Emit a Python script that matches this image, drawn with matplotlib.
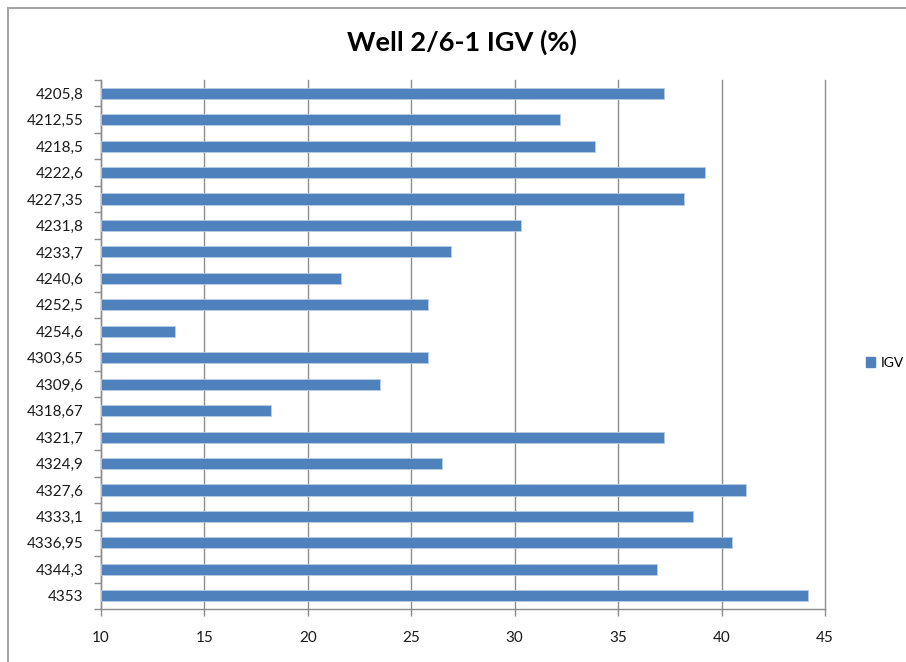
import matplotlib
matplotlib.use("Agg")
import matplotlib.pyplot as plt
from matplotlib.lines import Line2D
from matplotlib.patches import Patch
import numpy as np

depths = ["4205,8", "4212,55", "4218,5", "4222,6", "4227,35", "4231,8", "4233,7",
          "4240,6", "4252,5", "4254,6", "4303,65", "4309,6", "4318,67", "4321,7",
          "4324,9", "4327,6", "4333,1", "4336,95", "4344,3", "4353"]
igv = [37.2, 32.2, 33.9, 39.2, 38.2, 30.3, 26.9, 21.6, 25.8, 13.6, 25.8, 23.5,
       18.2, 37.2, 26.5, 41.2, 38.6, 40.5, 36.9, 44.2]
x_ticks = [10, 15, 20, 25, 30, 35, 40, 45]

plt.rcParams['font.family'] = ['Lato', 'DejaVu Sans']

BAR = "#4F81BD"
GRID = "#8C8C8C"

fig = plt.figure(figsize=(9.06, 6.62), dpi=100)
ax = fig.add_axes([101 / 906, 1 - 609 / 662, (825 - 101) / 906, (609 - 80) / 662])

pos = np.arange(len(depths))
ax.barh(pos, [v - 10 for v in igv], left=10, height=0.42, color=BAR,
        edgecolor="#B9CDE5", linewidth=0.6, zorder=3)
ax.set_ylim(len(depths) - 0.5, -0.5)
ax.set_xlim(10, 45)

ax.set_xticks(x_ticks)
ax.set_xticklabels([str(t) for t in x_ticks], fontsize=11, color="#1a1a1a")
ax.set_yticks(pos)
ax.set_yticklabels(depths, fontsize=11, color="#1a1a1a")
ax.set_yticks(np.arange(-0.5, len(depths)), minor=True)
ax.tick_params(axis="y", which="major", length=0, pad=12.5)
ax.tick_params(axis="y", which="minor", length=5, color=GRID, width=1)
ax.tick_params(axis="x", which="major", length=5, color=GRID, width=1, pad=11)

ax.grid(axis="x", color=GRID, linewidth=1, zorder=0)
for gl in ax.get_xgridlines():
    gl.set_clip_on(False)
for side in ("top", "right"):
    ax.spines[side].set_visible(False)
for side in ("left", "bottom"):
    ax.spines[side].set_color(GRID)
    ax.spines[side].set_linewidth(1)

fig.text(462 / 906, 1 - 42 / 662, "Well 2/6-1 IGV (%)", ha="center", va="center",
         fontsize=19.5, fontweight="bold", color="black")

fig.legend(handles=[Patch(facecolor=BAR, edgecolor=BAR, label="IGV")],
           loc="center left", bbox_to_anchor=(853 / 906, 1 - 363 / 662),
           frameon=False, fontsize=10, handlelength=0.7, handleheight=0.7,
           handletextpad=0.4)

# chart area border (left and top edges)
fig.add_artist(Line2D([8 / 906, 8 / 906], [0, 1 - 7.5 / 662], transform=fig.transFigure,
                      color="#A6A6A6", linewidth=1.5))
fig.add_artist(Line2D([8 / 906, 1], [1 - 7.5 / 662, 1 - 7.5 / 662], transform=fig.transFigure,
                      color="#A6A6A6", linewidth=1.5))

fig.savefig("out.png", dpi=100)
